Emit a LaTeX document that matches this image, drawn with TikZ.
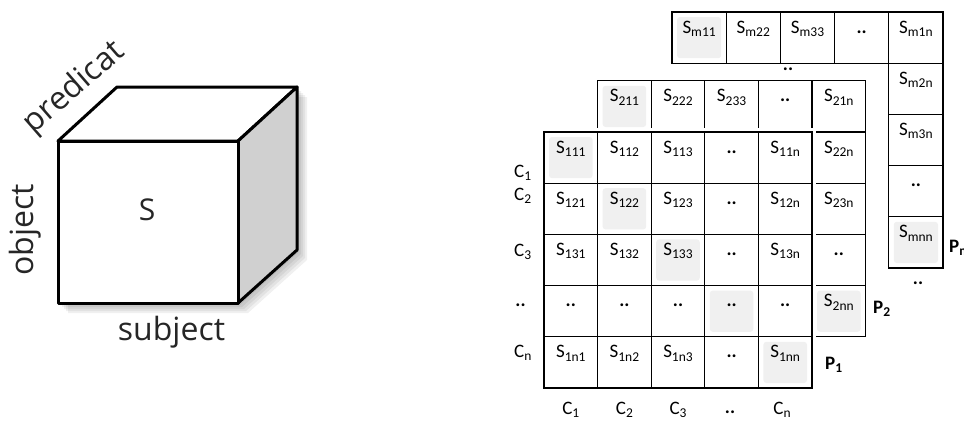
\documentclass[tikz,border=0pt]{standalone}
\usepackage{fontspec}
\usetikzlibrary{positioning}
\newfontfamily\cubefont{Open Sans}
\newfontfamily\gridfont{Carlito}
\definecolor{sideFill}{RGB}{208,208,208}
\definecolor{patchFill}{RGB}{240,240,240}
\colorlet{ink}{black}
\colorlet{labelInk}{black!85}
\newcommand{\Sub}[2]{#1\raisebox{-3.5pt}{\fontsize{13.5}{13.5}\selectfont #2}}
\newcommand{\twodots}{\textbf{..}}
\tikzset{
  cube/.style={draw=ink, line width=3pt, line join=round},
  axis/.style={font=\cubefont\fontsize{32}{36}\selectfont, text=labelInk, inner sep=0pt},
  cell/.style={
    draw=ink,
    fill=white,
    line width=1.3pt,
    minimum width=53.6pt,
    minimum height=51.2pt,
    inner sep=0pt,
    text height=21pt,
    text depth=30.2pt,
    font=\gridfont\fontsize{19}{21}\selectfont
  },
  diag/.style={
    cell,
    path picture={\fill[patchFill, rounded corners=3pt]
      ([shift={(5pt,5pt)}]path picture bounding box.south west) rectangle
      ([shift={(-5pt,-5pt)}]path picture bounding box.north east);}
  },
  tag/.style={font=\gridfont\fontsize{19}{21}\selectfont, inner sep=0pt},
  plane/.style={font=\gridfont\bfseries\fontsize{19}{21}\selectfont, inner sep=0pt}
}

\begin{document}
\begin{tikzpicture}[x=1pt,y=-1pt]
  \useasboundingbox (0,0) rectangle (964,421);

  % cube with its soft shadow
  \foreach \k in {2,4,6,8,10}
    \fill[black, opacity=0.06, shift={(\k,\k)}] (58,141) -- (117,87) -- (297,87) -- (297,250) -- (238,303) -- (58,303) -- cycle;
  \coordinate (fnw) at (58,141);
  \coordinate (fne) at (238,141);
  \coordinate (fse) at (238,303);
  \coordinate (bnw) at (117,87);
  \coordinate (bne) at (297,87);
  \coordinate (bse) at (297,250);
  \draw[cube, fill=white] (fnw) -- (bnw) -- (bne) -- (fne) -- cycle;
  \draw[cube, fill=sideFill] (fne) -- (bne) -- (bse) -- (fse) -- cycle;
  \draw[cube, fill=white] (fnw) rectangle (fse);

  \node[axis, font=\cubefont\fontsize{30}{36}\selectfont, anchor=base] (s) at (147,220) {S};
  \node[axis, anchor=base, rotate=41] (predicat) at (80,94) {predicat};
  \node[axis, anchor=base, rotate=90] (object) at (33,230) {object};
  \node[axis, anchor=base] (subject) at (171.5,340) {subject};

  % plane m (only its top row and last column show)
  \node[diag, minimum width=54.2pt] (pm-11) at (699.1,37.6) {\Sub{S}{m11}};
  \node[cell, minimum width=54.2pt] (pm-12) at (753.3,37.6) {\Sub{S}{m22}};
  \node[cell, minimum width=54.2pt] (pm-13) at (807.5,37.6) {\Sub{S}{m33}};
  \node[cell, minimum width=54.2pt] (pm-14) at (861.7,37.6) {\twodots};
  \node[cell, minimum width=54.2pt] (pm-15) at (915.9,37.6) {\Sub{S}{m1n}};
  \node[cell, minimum width=54.2pt] (pm-25) at (915.9,88.8) {\Sub{S}{m2n}};
  \node[cell, minimum width=54.2pt] (pm-35) at (915.9,140.0) {\Sub{S}{m3n}};
  \node[cell, minimum width=54.2pt] (pm-45) at (915.9,191.2) {\twodots};
  \node[diag, minimum width=54.2pt] (pm-55) at (915.9,242.4) {\Sub{S}{mnn}};

  % plane 2
  \node[diag] (p2-11) at (624.4,106.4) {\Sub{S}{211}};
  \node[cell] (p2-12) at (678.0,106.4) {\Sub{S}{222}};
  \node[cell] (p2-13) at (731.6,106.4) {\Sub{S}{233}};
  \node[cell] (p2-14) at (785.2,106.4) {\twodots};
  \node[cell] (p2-15) at (838.8,106.4) {\Sub{S}{21n}};
  \node[cell] (p2-25) at (838.8,157.6) {\Sub{S}{22n}};
  \node[cell] (p2-35) at (838.8,208.8) {\Sub{S}{23n}};
  \node[cell] (p2-45) at (838.8,260.0) {\twodots};
  \node[diag] (p2-55) at (838.8,311.2) {\Sub{S}{2nn}};

  % white gap round plane 1
  \draw[white, line width=8pt] (544,132) rectangle (812,388);

  % plane 1
  \node[diag] (p1-11) at (570.8,157.6) {\Sub{S}{111}};
  \node[cell] (p1-12) at (624.4,157.6) {\Sub{S}{112}};
  \node[cell] (p1-13) at (678.0,157.6) {\Sub{S}{113}};
  \node[cell] (p1-14) at (731.6,157.6) {\twodots};
  \node[cell] (p1-15) at (785.2,157.6) {\Sub{S}{11n}};
  \node[cell] (p1-21) at (570.8,208.8) {\Sub{S}{121}};
  \node[diag] (p1-22) at (624.4,208.8) {\Sub{S}{122}};
  \node[cell] (p1-23) at (678.0,208.8) {\Sub{S}{123}};
  \node[cell] (p1-24) at (731.6,208.8) {\twodots};
  \node[cell] (p1-25) at (785.2,208.8) {\Sub{S}{12n}};
  \node[cell] (p1-31) at (570.8,260.0) {\Sub{S}{131}};
  \node[cell] (p1-32) at (624.4,260.0) {\Sub{S}{132}};
  \node[diag] (p1-33) at (678.0,260.0) {\Sub{S}{133}};
  \node[cell] (p1-34) at (731.6,260.0) {\twodots};
  \node[cell] (p1-35) at (785.2,260.0) {\Sub{S}{13n}};
  \node[cell] (p1-41) at (570.8,311.2) {\twodots};
  \node[cell] (p1-42) at (624.4,311.2) {\twodots};
  \node[cell] (p1-43) at (678.0,311.2) {\twodots};
  \node[diag] (p1-44) at (731.6,311.2) {\twodots};
  \node[cell] (p1-45) at (785.2,311.2) {\twodots};
  \node[cell] (p1-51) at (570.8,362.4) {\Sub{S}{1n1}};
  \node[cell] (p1-52) at (624.4,362.4) {\Sub{S}{1n2}};
  \node[cell] (p1-53) at (678.0,362.4) {\Sub{S}{1n3}};
  \node[cell] (p1-54) at (731.6,362.4) {\twodots};
  \node[diag] (p1-55) at (785.2,362.4) {\Sub{S}{1nn}};

  % row and column tags
  \node[tag, anchor=base west] (r1) at (514,177) {\Sub{C}{1}};
  \node[tag, anchor=base west] (r2) at (514,200) {\Sub{C}{2}};
  \node[tag, anchor=base west] (r3) at (514,256) {\Sub{C}{3}};
  \node[tag] (r4) at (520.5,305) {\twodots};
  \node[tag, anchor=base west] (r5) at (514,357) {\Sub{C}{n}};
  \node[tag, anchor=base] (k1) at (570.8,414) {\Sub{C}{1}};
  \node[tag, anchor=base] (k2) at (624.4,414) {\Sub{C}{2}};
  \node[tag, anchor=base] (k3) at (678.0,414) {\Sub{C}{3}};
  \node[tag] (k4) at (730,412) {\twodots};
  \node[tag, anchor=base] (k5) at (782,414) {\Sub{C}{n}};

  % plane names and gaps
  \node[plane, anchor=base west] (name1) at (825,369) {\Sub{P}{1}};
  \node[plane, anchor=base west] (name2) at (873,313) {\Sub{P}{2}};
  \node[plane, anchor=base west] (namem) at (949,252) {\Sub{P}{m}};
  \node[tag] (gap2) at (788,69) {\twodots};
  \node[tag] (gapm) at (918,283) {\twodots};
\end{tikzpicture}
\end{document}
